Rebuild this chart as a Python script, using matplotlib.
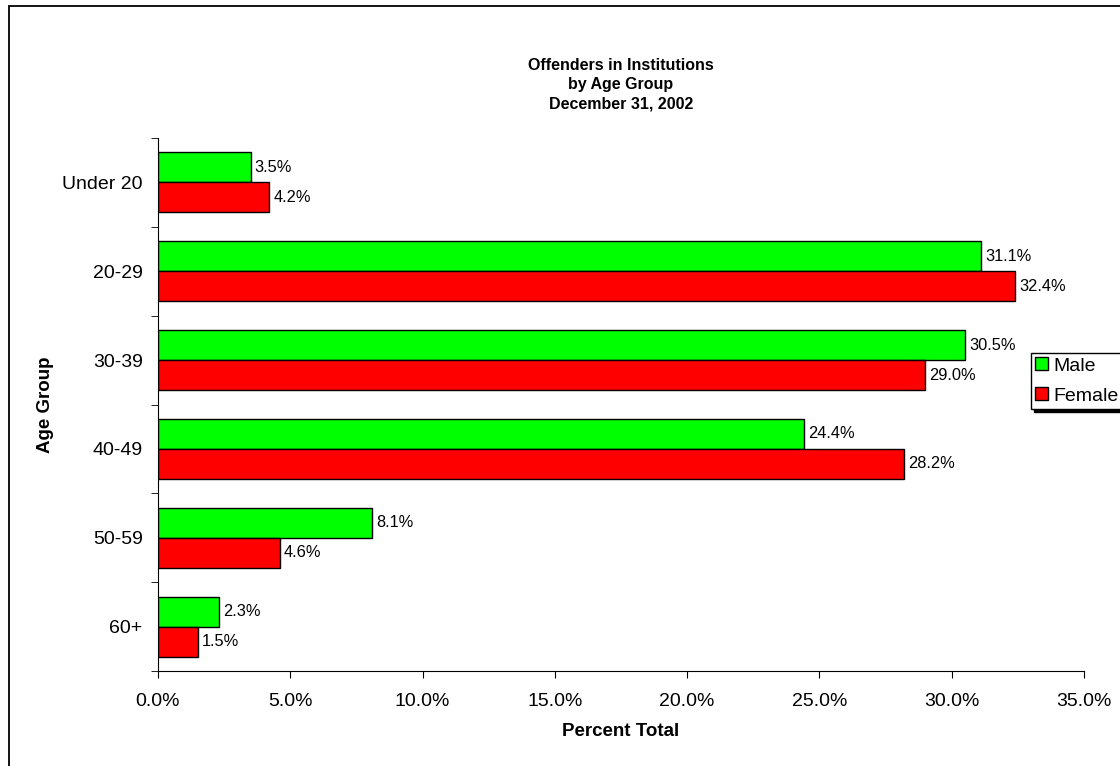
import matplotlib.pyplot as plt
import numpy as np
from matplotlib.patches import Rectangle

plt.rcParams['font.family'] = ['Liberation Sans', 'DejaVu Sans']

groups = ['Under 20', '20-29', '30-39', '40-49', '50-59', '60+']
male = [3.5, 31.1, 30.5, 24.4, 8.1, 2.3]
female = [4.2, 32.4, 29.0, 28.2, 4.6, 1.5]
xticks = [0, 5, 10, 15, 20, 25, 30, 35]

W, H = 1120, 766
fig = plt.figure(figsize=(W / 100, H / 100), dpi=100)
# outer chart border (cut off at right and bottom)
fig.patches.append(Rectangle((8.5 / W, -0.05), 1.1, 760 / H + 0.05,
                             transform=fig.transFigure, fill=False,
                             edgecolor='black', linewidth=1.3))

ax = fig.add_axes([158 / W, 95 / H, 926 / W, 533 / H])
y = np.arange(len(groups))
h = 0.337
ax.barh(y - h / 2, male, height=h, color='#00FF00', edgecolor='black',
        linewidth=1, label='Male')
ax.barh(y + h / 2, female, height=h, color='#FF0000', edgecolor='black',
        linewidth=1, label='Female')

for i in range(len(groups)):
    ax.annotate('%.1f%%' % male[i], (male[i], y[i] - h / 2),
                xytext=(3, 0), textcoords='offset points',
                va='center', ha='left', fontsize=11.8)
    ax.annotate('%.1f%%' % female[i], (female[i], y[i] + h / 2),
                xytext=(3, 0), textcoords='offset points',
                va='center', ha='left', fontsize=11.8)

ax.set_xlim(0, 35)
ax.set_ylim(len(groups) - 0.5, -0.5)
ax.set_xticks(xticks)
ax.set_xticklabels(['%.1f%%' % v for v in xticks], fontsize=14)
ax.set_yticks(y)
ax.set_yticklabels(groups, fontsize=14)
ax.set_yticks(np.arange(-0.5, len(groups)), minor=True)
ax.tick_params(axis='y', which='major', length=0, pad=11)
ax.tick_params(axis='y', which='minor', length=5, direction='out')
ax.tick_params(axis='x', length=5, direction='out', pad=11)
for s in ['top', 'right']:
    ax.spines[s].set_visible(False)

ax.set_xlabel('Percent Total', fontsize=13.5, fontweight='bold', labelpad=9)
ax.set_ylabel('Age Group', fontsize=13.5, fontweight='bold', labelpad=6)

fig.text(621 / W, 1 - 85 / H,
         'Offenders in Institutions\nby Age Group\nDecember 31, 2002',
         ha='center', va='center', fontsize=11.5, fontweight='bold',
         linespacing=1.35)

leg = ax.legend(loc='upper left', bbox_to_anchor=(1031 / W, 1 - 353 / H),
                bbox_transform=fig.transFigure, fontsize=14, frameon=True,
                fancybox=False, shadow={'color': 'black', 'alpha': 1},
                handlelength=0.65, handleheight=0.65, handletextpad=0.3,
                borderpad=0.22, labelspacing=0.66, borderaxespad=0)
leg.get_frame().set_edgecolor('black')
leg.get_frame().set_linewidth(1)

fig.savefig('out.png', dpi=100)
